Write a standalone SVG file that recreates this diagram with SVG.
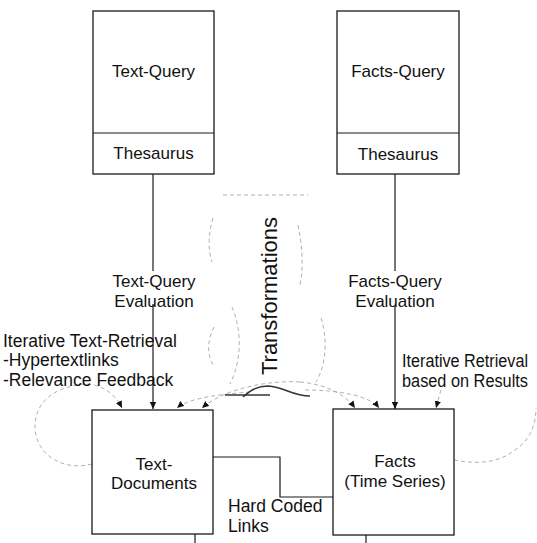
<svg xmlns="http://www.w3.org/2000/svg" width="537" height="543" viewBox="0 0 537 543">
<defs>
<style>
.box{fill:#fff;stroke:#1a1a1a;stroke-width:1.3}
.ln{fill:none;stroke:#1a1a1a;stroke-width:1.2}
.faint{fill:none;stroke:#a8a8a8;stroke-width:0.9;stroke-dasharray:4 3}
.dk{fill:none;stroke:#333;stroke-width:1.4}
.bg{fill:#fff}
text{font-family:"Liberation Sans",Arial,sans-serif;fill:#111}
.t{font-size:17px;text-anchor:middle}
.l{font-size:17.5px}
</style>
<marker id="ah" viewBox="0 0 10 10" refX="10" refY="5" markerWidth="7" markerHeight="7" markerUnits="userSpaceOnUse" orient="auto"><path d="M0,0.5 L10,5 L0,9.5 z" fill="#111"/></marker>
</defs>
<rect width="537" height="543" fill="#fff"/>

<g id="connectors">
<path class="ln" d="M153,174 L153,409" marker-end="url(#ah)"/>
<path class="ln" d="M395,174 L395,409" marker-end="url(#ah)"/>
<path class="ln" d="M192,457 L280,457 L280,497 L372,497" marker-end="url(#ah)"/>
<path class="ln" d="M195,543 L195,496" marker-end="url(#ah)"/>
<path class="ln" d="M366,517 L366,543"/>
<path class="faint" d="M92,464 C60,472 34,452 35,425 C36,398 60,386 85,384 C100,384 114,392 122,408" marker-end="url(#ah)"/>
<path class="faint" d="M454,460 C480,465 500,462 515,450 C530,440 536,425 536,408"/>
<path class="faint" d="M441,390 L436,408" marker-end="url(#ah)"/>
<path class="faint" d="M300,382 C270,380 225,388 202,408" marker-end="url(#ah)"/>
<path class="faint" d="M300,382 C325,384 345,394 355,408" marker-end="url(#ah)"/>
<path class="faint" d="M250,392 C225,394 190,397 177,408" marker-end="url(#ah)"/>
<path class="faint" d="M305,390 C340,390 370,396 379,408" marker-end="url(#ah)"/>
<path class="dk" d="M225,395 L270,395"/>
<path class="dk" d="M243,397 C250,390 258,386 268,386 C285,387 292,396 310,396"/>
<path class="faint" d="M223,195 L308,195"/>
<path class="faint" d="M213,218 C208,235 208,250 212,262"/>
<path class="faint" d="M298,225 C302,245 304,265 300,285"/>
<path class="faint" d="M232,307 C242,330 242,360 230,384"/>
<path class="faint" d="M321,318 C328,340 326,365 316,382"/>
<path class="faint" d="M214,327 C207,340 207,355 213,365"/>
</g>

<g id="text-query">
<rect class="box" x="93" y="11" width="121" height="163"/>
<line class="ln" x1="93" y1="133" x2="214" y2="133"/>
<text class="t" x="153.5" y="77">Text-Query</text>
<text class="t" x="153.5" y="159">Thesaurus</text>
</g>

<g id="facts-query">
<rect class="box" x="337" y="11" width="122" height="163"/>
<line class="ln" x1="337" y1="133" x2="459" y2="133"/>
<text class="t" x="398" y="77">Facts-Query</text>
<text class="t" x="398" y="160">Thesaurus</text>
</g>

<g id="text-documents">
<rect class="box" x="92" y="410" width="121" height="124" fill="none"/>
<text class="t" x="154" y="470">Text-</text>
<text class="t" x="154" y="489">Documents</text>
</g>

<g id="facts">
<rect class="box" x="333" y="409" width="121" height="126" fill="none"/>
<text class="t" x="395" y="467">Facts</text>
<text class="t" x="395" y="487">(Time Series)</text>
</g>

<g id="labels">
<rect class="bg" x="110" y="271" width="88" height="33"/>
<rect class="bg" x="346" y="271" width="98" height="35"/>
<text class="t" x="154" y="287">Text-Query</text>
<text class="t" x="154" y="307">Evaluation</text>
<text class="t" x="395" y="287">Facts-Query</text>
<text class="t" x="395" y="307">Evaluation</text>
<text class="l" x="3" y="347">Iterative Text-Retrieval</text>
<text class="l" x="3" y="366">-Hypertextlinks</text>
<text class="l" x="3" y="386">-Relevance Feedback</text>
<text class="l" x="402" y="367" font-size="16.5" textLength="126" lengthAdjust="spacingAndGlyphs">Iterative Retrieval</text>
<text class="l" x="402" y="387" font-size="16.5" textLength="126" lengthAdjust="spacingAndGlyphs">based on Results</text>
<text class="l" x="228" y="512" font-size="17">Hard Coded</text>
<text class="l" x="228" y="532" font-size="17">Links</text>
<text x="277" y="296" font-size="22" text-anchor="middle" transform="rotate(-90 277 296)">Transformations</text>
</g>
</svg>
